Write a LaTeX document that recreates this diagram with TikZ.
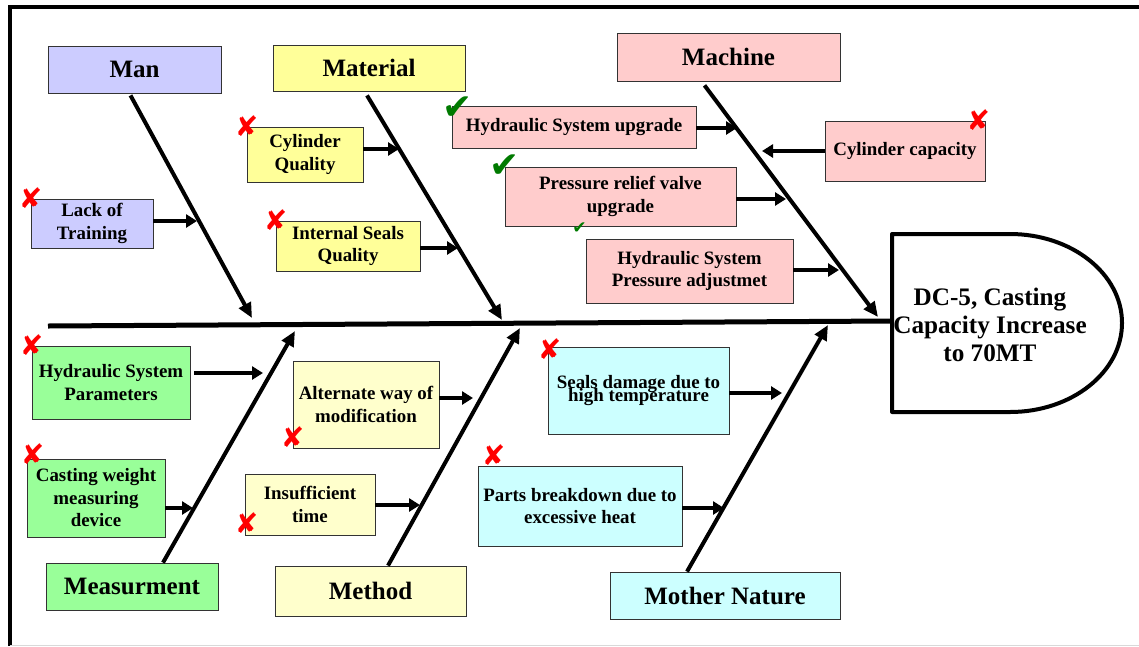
\documentclass[tikz,border=0pt]{standalone}
\usepackage{fontspec}
\usepackage{xcolor}
\usepackage{tikz}
\usetikzlibrary{arrows.meta}
\setmainfont{Liberation Serif}
\newfontfamily\symfont{DejaVu Sans}
\newcommand\tightlines{\lineskiplimit=-100pt\relax}
\definecolor{manfill}{HTML}{CCCCFF}
\definecolor{matfill}{HTML}{FFFF99}
\definecolor{macfill}{HTML}{FFCCCC}
\definecolor{meafill}{HTML}{99FF99}
\definecolor{metfill}{HTML}{FFFFCC}
\definecolor{natfill}{HTML}{CCFFFF}
\definecolor{okgreen}{HTML}{007A00}

\begin{document}
\begin{tikzpicture}[x=1pt, y=-1pt,
    cat/.style={draw=black!80, line width=0.8pt, inner sep=0pt, font=\bfseries\fontsize{25}{28}\selectfont},
    cause/.style={draw=black!80, line width=0.8pt, inner sep=0pt, align=center, font=\bfseries\fontsize{18.9}{22.5}\selectfont},
    bone/.style={line width=4pt, -{Triangle[length=15pt,width=13pt]}},
    feed/.style={line width=4.5pt, -{Triangle[length=11pt,width=13pt]}},
    nok/.style={text=red, inner sep=0pt, font=\symfont\fontsize{28}{28}\selectfont},
    ok/.style={text=okgreen, inner sep=0pt, font=\symfont\fontsize{36}{36}\selectfont}]
        \useasboundingbox (0,0) rectangle (1139,646);
        \draw[line width=4pt] (10,646) -- (10,7) -- (1139,7);
        \draw[black!15, line width=1pt] (10,645) -- (1139,645);

        \node (man) [cat, fill=manfill, minimum width=173pt, minimum height=47pt] at (134.5,69.5) {Man};
        \node (mat) [cat, fill=matfill, minimum width=192pt, minimum height=46pt] at (369,68) {Material};
        \node (mac) [cat, fill=macfill, minimum width=223pt, minimum height=48pt] at (728.5,57) {Machine};
        \node (mea) [cat, fill=meafill, minimum width=172pt, minimum height=47pt] at (132,586.5) {Measurment};
        \node (met) [cat, fill=metfill, minimum width=191pt, minimum height=50pt] at (370.5,591) {Method};
        \node (nat) [cat, fill=natfill, minimum width=230pt, minimum height=47pt] at (725,595.5) {Mother Nature};

        \node (lack) [cause, fill=manfill, minimum width=122pt, minimum height=49pt] at (92,223.5) {Lack of\\Training};
        \node (cylq) [cause, fill=matfill, minimum width=116pt, minimum height=55pt] at (305,154.5) {Cylinder\\Quality};
        \node (sealq) [cause, fill=matfill, minimum width=144pt, minimum height=50pt] at (348,246) {Internal Seals\\Quality};
        \node (hsu) [cause, fill=macfill, minimum width=244pt, minimum height=42pt] at (574,127) {Hydraulic System upgrade};
        \node (cylcap) [cause, fill=macfill, minimum width=160pt, minimum height=60pt] at (905,151) {Cylinder capacity};
        \node (prv) [cause, fill=macfill, minimum width=231pt, minimum height=59pt] at (620.5,196.5) {Pressure relief valve\\upgrade};
        \node (hspa) [cause, fill=macfill, minimum width=207pt, minimum height=64pt] at (689.5,271) {Hydraulic System\\Pressure adjustmet};
        \node (hsp) [cause, fill=meafill, minimum width=158pt, minimum height=73pt] at (111,382.5) {Hydraulic System\\Parameters};
        \node (cwmd) [cause, fill=meafill, minimum width=138pt, minimum height=78pt] at (96,498) {Casting weight\\measuring\\device};
        \node (alt) [cause, fill=metfill, minimum width=146pt, minimum height=87pt] at (366,404.5) {Alternate way of\\modification};
        \node (insuf) [cause, fill=metfill, minimum width=130pt, minimum height=61pt] at (310,504.5) {Insufficient\\time};
        \node (sdmg) [cause, fill=natfill, minimum width=181pt, minimum height=87pt, font={\bfseries\fontsize{18.9}{13}\selectfont\tightlines}] at (638.5,390.5) {Seals damage due to\\high temperature};
        \node (parts) [cause, fill=natfill, minimum width=204pt, minimum height=80pt] at (580,506) {Parts breakdown due to\\excessive heat};

        \coordinate (tail) at (48,326);
        \coordinate (headL) at (892,321);
        \draw[line width=4pt, line join=round] (892,234) -- (1010,234) arc[start angle=90, end angle=-90, x radius=112pt, y radius=89pt] -- (892,412) -- cycle;
        \node (effect) [align=center, inner sep=0pt, font=\bfseries\fontsize{25.2}{28}\selectfont] at (990,325) {DC-5, Casting\\Capacity Increase\\to 70MT};
        \draw[line width=5pt] (tail) -- (headL);

        \coordinate (manTip) at (252,318);
        \coordinate (matTip) at (502,320);
        \coordinate (macTip) at (878,317);
        \coordinate (meaTip) at (295,331);
        \coordinate (metTip) at (520,328);
        \coordinate (natTip) at (828,325);
        \draw[bone] ([xshift=-4pt,yshift=-2pt]man.south) -- (manTip);
        \draw[bone] ([xshift=-2pt,yshift=-4pt]mat.south) -- (matTip);
        \draw[bone] ([xshift=-24pt,yshift=-4pt]mac.south) -- (macTip);
        \draw[bone] ([xshift=31pt]mea.north) -- (meaTip);
        \draw[bone] ([xshift=17.5pt]met.north) -- (metTip);
        \draw[bone] ([xshift=-38pt]nat.north) -- (natTip);

        \coordinate (l1) at (197,221);
        \coordinate (c1) at (399,149);
        \coordinate (s1) at (458,248);
        \coordinate (h1) at (737,128);
        \coordinate (k1) at (762,151);
        \coordinate (p1) at (786,199);
        \coordinate (a1) at (839,270);
        \coordinate (q1) at (263,373);
        \coordinate (w1) at (193,508);
        \coordinate (t1) at (473,398);
        \coordinate (i1) at (420,505);
        \coordinate (d1) at (782,393);
        \coordinate (b1) at (724,508);
        \draw[feed] (l1 -| lack.east) -- (l1);
        \draw[feed] (c1 -| cylq.east) -- (c1);
        \draw[feed] (s1 -| sealq.east) -- (s1);
        \draw[feed] (h1 -| hsu.east) -- (h1);
        \draw[feed] (k1 -| cylcap.west) -- (k1);
        \draw[feed] (p1 -| prv.east) -- (p1);
        \draw[feed] (a1 -| hspa.east) -- (a1);
        \draw[feed] ([xshift=4pt]q1 -| hsp.east) -- (q1);
        \draw[feed] (w1 -| cwmd.east) -- (w1);
        \draw[feed] (t1 -| alt.east) -- (t1);
        \draw[feed] (i1 -| insuf.east) -- (i1);
        \draw[feed] (d1 -| sdmg.east) -- (d1);
        \draw[feed] (b1 -| parts.east) -- (b1);

        \node (x1) [nok] at (lack.north west) {✘};
        \node (x2) [nok] at (cylq.north west) {✘};
        \node (x3) [nok] at (sealq.north west) {✘};
        \node (x4) [nok] at ([shift={(-7,0)}]cylcap.north east) {✘};
        \node (x5) [nok] at (hsp.north west) {✘};
        \node (x6) [nok] at ([shift={(6,-4)}]cwmd.north west) {✘};
        \node (x7) [nok] at ([shift={(0,-11)}]alt.south west) {✘};
        \node (x8) [nok] at ([shift={(2,-12)}]insuf.south west) {✘};
        \node (x9) [nok] at ([shift={(2,3)}]sdmg.north west) {✘};
        \node (x10) [nok] at ([shift={(16,-10)}]parts.north west) {✘};
        \node (v1) [ok] at ([shift={(6,3)}]hsu.north west) {✔};
        \node (v2) [ok] at (prv.north west) {✔};
        \node (v3) [ok, font=\symfont\fontsize{17}{17}\selectfont] at ([shift={(-6,-10)}]hspa.north west) {✔};
\end{tikzpicture}
\end{document}
